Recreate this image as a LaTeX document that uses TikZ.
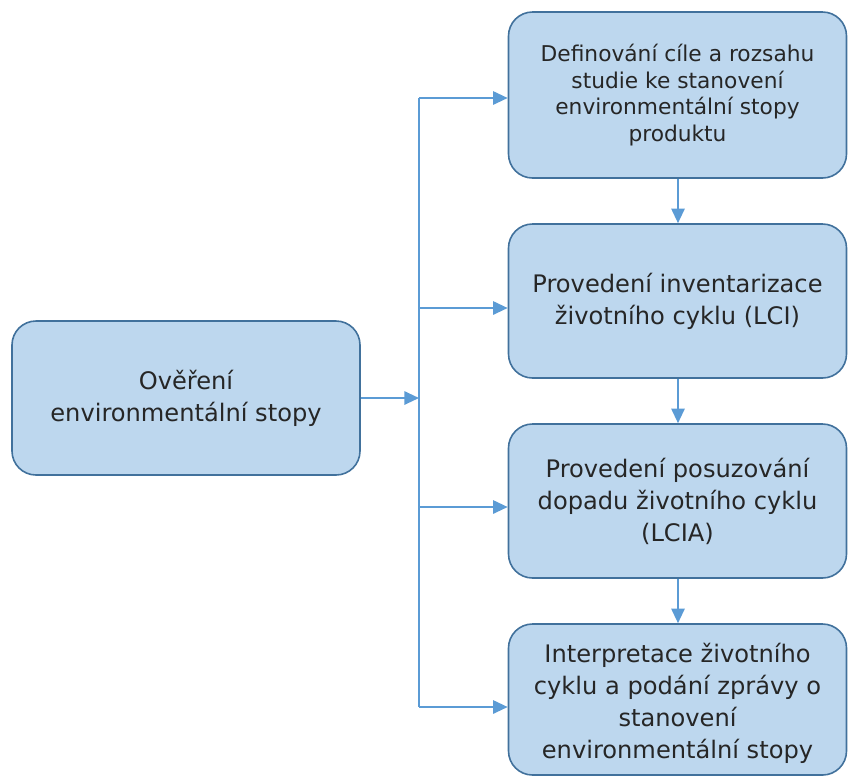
\documentclass[tikz,border=0pt]{standalone}
\usepackage{fontspec}
\setmainfont{DejaVu Sans}
\usetikzlibrary{arrows.meta}
\definecolor{boxfill}{HTML}{BDD7EE}
\definecolor{boxline}{HTML}{41719C}
\definecolor{arrowc}{HTML}{5B9BD5}
\definecolor{txt}{HTML}{262626}
\tikzset{
  boxtext/.style={align=center, text=txt, inner sep=0pt, font=\fontsize{18.1}{24}\selectfont},
  box/.style={draw=boxline, line width=1.2pt, fill=boxfill, rounded corners=18pt, boxtext},
  smallbox/.style={box, font=\fontsize{16.3}{20}\selectfont},
  arr/.style={draw=arrowc, line width=1.5pt, -{Triangle[length=11pt,width=10pt]}},
  ln/.style={draw=arrowc, line width=1.5pt}
}
\begin{document}
\begin{tikzpicture}[x=0.75pt,y=-0.75pt]
\useasboundingbox (0,0) rectangle (848,776);
% left box
\node[box, minimum width=348*0.75pt, minimum height=154*0.75pt] (L) at (186,398)
  {Ověření\\environmentální stopy};
% right column
\node[smallbox, minimum width=338*0.75pt, minimum height=166*0.75pt] (A) at (677.5,95)
  {Definování cíle a rozsahu\\studie ke stanovení\\environmentální stopy\\produktu};
\node[box, minimum width=338*0.75pt, minimum height=154*0.75pt] (B) at (677.5,301)
  {Provedení inventarizace\\životního cyklu (LCI)};
\node[box, minimum width=338*0.75pt, minimum height=154*0.75pt] (C) at (677.5,501)
  {Provedení posuzování\\dopadu životního cyklu\\(LCIA)};
\node[box, minimum width=338*0.75pt, minimum height=151*0.75pt] (D) at (677.5,699.5) {};
\node[boxtext] (Dt) at (677.5,703)
  {Interpretace životního\\cyklu a podání zprávy o\\stanovení\\environmentální stopy};
% connectors
\coordinate (J) at (419,398);
\coordinate (tA) at (419,98);
\coordinate (tB) at (419,308);
\coordinate (tC) at (419,507);
\coordinate (tD) at (419,707);
\coordinate (vx) at (678,0);
\draw[arr] (L.east |- J) -- (J);
\draw[ln] (tA) -- (tD);
\draw[arr] (tA) -- (tA -| A.west);
\draw[arr] (tB) -- (tB -| B.west);
\draw[arr] (tC) -- (tC -| C.west);
\draw[arr] (tD) -- (tD -| D.west);
\draw[arr] (A.south -| vx) -- (B.north -| vx);
\draw[arr] (B.south -| vx) -- (C.north -| vx);
\draw[arr] (C.south -| vx) -- (D.north -| vx);
\end{tikzpicture}
\end{document}
